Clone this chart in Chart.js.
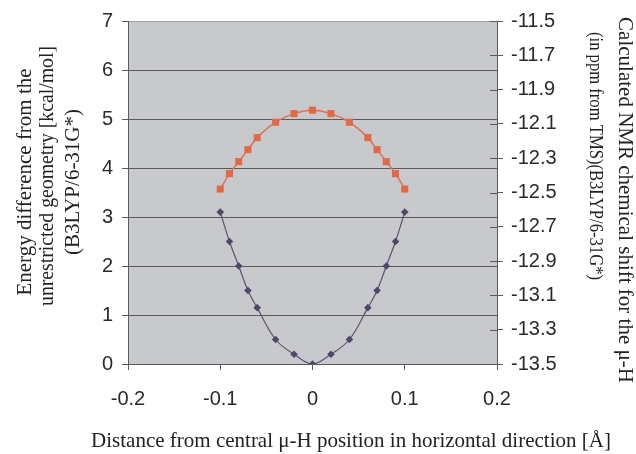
<!DOCTYPE html>
<html>
<head>
<meta charset="utf-8">
<script src="https://cdn.jsdelivr.net/npm/chart.js@4/dist/chart.umd.min.js"></script>
<style>
  html, body { margin: 0; padding: 0; background: #fff; }
  canvas { display: block; }
</style>
</head>
<body>
<canvas id="chart" width="636" height="454"></canvas>
<script>
// distance from central mu-H position [Å]
const distances = [-0.1, -0.09, -0.08, -0.07, -0.06, -0.04, -0.02, 0, 0.02, 0.04, 0.06, 0.07, 0.08, 0.09, 0.1];
// energy difference [kcal/mol], left axis
const energy = [3.1, 2.5, 2.0, 1.5, 1.15, 0.5, 0.2, 0, 0.2, 0.5, 1.15, 1.5, 2.0, 2.5, 3.1];
// NMR chemical shift [ppm], right axis
const nmrShift = [-12.48, -12.39, -12.32, -12.25, -12.18, -12.09, -12.04, -12.02, -12.04, -12.09, -12.18, -12.25, -12.32, -12.39, -12.48];

const leftTitle = ['Energy difference from the', 'unrestricted geometry [kcal/mol]', '(B3LYP/6-31G*)'];
const rightTitle = ['Calculated NMR chemical shift for the \u03bc-H', '(in ppm from TMS)(B3LYP/6-31G*)'];
const bottomTitle = 'Distance from central \u03bc-H position in horizontal direction [\u00c5]';

const tickFont = { family: '"Liberation Sans", Arial, sans-serif', size: 20 };
const serif = '"Liberation Serif", "Times New Roman", serif';
const gridDark = '#5a5a5a';

const toPoints = (xs, ys) => xs.map((x, i) => ({ x: x, y: ys[i] }));

// x, y, max width, font size for each title line
const leftPos = [[25, 182, 240, 21], [47, 176, 260, 21], [73, 182, 150, 21]];
const rightPos = [[625, 200, 380, 21], [595, 156, 248, 19]];

const decorations = {
    id: 'decorations',
    beforeDraw(chart) {
        const { ctx, chartArea: a } = chart;
        ctx.save();
        ctx.fillStyle = '#c8c9cd';
        ctx.fillRect(a.left, a.top, a.right - a.left, a.bottom - a.top);
        ctx.restore();
    },
    afterDraw(chart) {
        const { ctx, chartArea: a } = chart;
        const y1 = chart.scales.y1;
        ctx.save();
        // right axis ticks cross into the plot
        ctx.strokeStyle = gridDark;
        ctx.lineWidth = 1;
        y1.ticks.forEach(t => {
            const py = Math.round(y1.getPixelForValue(t.value)) + 0.5;
            ctx.beginPath();
            ctx.moveTo(a.right - 7, py);
            ctx.lineTo(a.right, py);
            ctx.stroke();
        });

        ctx.fillStyle = '#222';
        ctx.textAlign = 'center';
        ctx.textBaseline = 'middle';

        leftTitle.forEach((line, i) => {
            const [x, y, w, size] = leftPos[i];
            ctx.save();
            ctx.font = size + 'px ' + serif;
            ctx.translate(x, y);
            ctx.rotate(-Math.PI / 2);
            ctx.fillText(line, 0, 0, w);
            ctx.restore();
        });

        rightTitle.forEach((line, i) => {
            const [x, y, w, size] = rightPos[i];
            ctx.save();
            ctx.font = size + 'px ' + serif;
            ctx.translate(x, y);
            ctx.rotate(Math.PI / 2);
            ctx.fillText(line, 0, 0, w);
            ctx.restore();
        });

        ctx.font = '21px ' + serif;
        ctx.fillText(bottomTitle, 351, 441);
        ctx.restore();
    }
};

new Chart(document.getElementById('chart'), {
    type: 'scatter',
    data: {
        datasets: [
            {
                label: 'Energy',
                data: toPoints(distances, energy),
                yAxisID: 'y',
                showLine: true,
                tension: 0.4,
                borderColor: '#5a5470',
                borderWidth: 1.2,
                pointStyle: 'rectRot',
                pointRadius: 3.8,
                pointBackgroundColor: '#4e4868',
                pointBorderColor: '#4e4868',
                pointBorderWidth: 0
            },
            {
                label: 'NMR shift',
                data: toPoints(distances, nmrShift),
                yAxisID: 'y1',
                showLine: true,
                tension: 0.25,
                borderColor: '#e0704e',
                borderWidth: 1.5,
                pointStyle: 'rect',
                pointRadius: 5,
                pointBackgroundColor: '#e06a48',
                pointBorderColor: '#e06a48',
                pointBorderWidth: 0
            }
        ]
    },
    options: {
        responsive: false,
        animation: false,
        layout: { padding: { top: 19, left: 0, right: 0, bottom: 0 } },
        plugins: {
            legend: { display: false },
            tooltip: { enabled: false }
        },
        scales: {
            x: {
                type: 'linear',
                min: -0.2,
                max: 0.2,
                afterFit: s => { s.height = 90; },
                border: { display: true, color: gridDark, width: 1 },
                grid: { drawOnChartArea: false, drawTicks: true, tickLength: 6, tickColor: gridDark },
                ticks: {
                    stepSize: 0.1,
                    font: tickFont,
                    color: '#2a2a2a',
                    padding: 17,
                    maxRotation: 0,
                    callback: v => (Math.abs(v) < 1e-9 ? '0' : v.toFixed(1))
                }
            },
            y: {
                type: 'linear',
                position: 'left',
                min: 0,
                max: 7,
                afterFit: s => { s.width = 128; },
                border: { display: true, color: gridDark, width: 1 },
                grid: {
                    color: ctx => (ctx.tick && ctx.tick.value === 7 ? '#a0a0a4' : gridDark),
                    tickColor: gridDark,
                    tickLength: 6,
                    lineWidth: 1
                },
                ticks: {
                    stepSize: 1,
                    font: tickFont,
                    color: '#2a2a2a',
                    padding: 9
                }
            },
            y1: {
                type: 'linear',
                position: 'right',
                min: -13.5,
                max: -11.5,
                afterFit: s => { s.width = 139; },
                border: { display: true, color: gridDark, width: 1 },
                grid: { drawOnChartArea: false, tickColor: gridDark, tickLength: 6 },
                ticks: {
                    stepSize: 0.2,
                    font: tickFont,
                    color: '#2a2a2a',
                    padding: 8,
                    callback: v => v.toFixed(1)
                }
            }
        }
    },
    plugins: [decorations]
});
</script>
</body>
</html>
